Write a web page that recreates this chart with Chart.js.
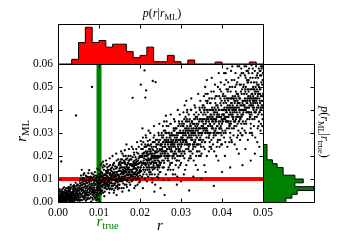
<!DOCTYPE html>
<html><head><meta charset="utf-8">
<script src="https://cdn.jsdelivr.net/npm/chart.js@4.4.0/dist/chart.umd.min.js"></script>
<style>
html,body{margin:0;padding:0;background:#fff;}
#wrap{position:relative;width:341px;height:247px;overflow:hidden;background:#fff;}
canvas{position:absolute;left:0;top:0;width:341px;height:247px;}
</style></head><body>
<div id="wrap">
<canvas id="main" width="341" height="247"></canvas>
<canvas id="top" width="341" height="247"></canvas>
<canvas id="right" width="341" height="247"></canvas>
</div>
<script>
// ---------- data ----------
const X_TICKS = [0, 0.01, 0.02, 0.03, 0.04, 0.05];
const X_TICK_LABELS = ['0.00', '0.01', '0.02', '0.03', '0.04', '0.05'];
const Y_TICKS = [0, 0.01, 0.02, 0.03, 0.04, 0.05, 0.06];
const Y_TICK_LABELS = ['0.00', '0.01', '0.02', '0.03', '0.04', '0.05', '0.06'];
const R_TRUE = 0.01;          // green vertical marker
const R_ML_MARK = 0.01;       // red horizontal marker
const HIST_BIN_WIDTH = 0.05 / 30;
// p(r | r_ML) histogram (bins of r from 0)
const topHistCounts = [0, 0, 14, 65, 111, 65, 71, 51, 60, 60, 38, 19, 26, 51, 7, 7, 26, 7, 0, 12, 0, 0, 0, 6, 0, 0, 0, 0, 6, 0];
// p(r_ML | r_true) histogram (bins of r_ML from 0)
const rightHistCounts = [68, 86, 102, 152, 95, 120, 95, 60, 60, 42, 28, 12, 12, 12, 12];
// scatter points (r, r_ML) in units of 1e-4
const POINT_UNIT = 1e-4;
const scatterPairs = [
3,5, 8,12, 12,3, 15,20, 2,30, 6,18, 10,8, 14,35, 18,14, 20,2, 22,25, 25,40, 27,10, 30,18, 33,5, 35,30, 38,22, 40,45, 42,12, 45,28, 48,6, 47,50, 44,38, 41,19, 39,3, 36,55, 33,27, 31,42, 28,33, 26,8, 24,15, 21,48, 19,36, 17,7, 16,26, 13,44, 11,16, 9,28, 7,40, 5,22, 4,11, 1,15, 2,2, 6,33, 9,52, 12,25, 15,9, 18,41, 21,13, 23,31, 26,22, 29,47, 32,15, 34,38, 37,9, 40,29, 43,52, 46,17, 49,34, 48,62, 45,70, 42,58, 38,36, 35,14, 32,63, 29,26, 27,54, 24,60, 22,7, 20,33, 17,52, 14,17, 12,58, 10,38, 8,4, 5,46, 3,24, 1,38, 4,55, 7,26, 11,2, 13,30, 16,37, 19,22, 23,42, 25,29, 28,4, 30,56, 34,21, 37,44, 41,66, 44,9, 46,42, 49,20, 47,76, 43,84, 39,73, 36,68, 31,75, 26,66, 20,60, 15,64, 9,20, 6,9, 2,46,
52,10, 55,35, 58,62, 60,22, 63,80, 65,45, 68,5, 70,95, 72,30, 75,58, 77,15, 80,110, 82,40, 85,72, 88,25, 90,130, 92,52, 95,88, 97,12, 99,65, 98,105, 96,38, 93,8, 91,76, 89,48, 86,120, 84,18, 81,92, 79,55, 76,138, 74,28, 71,68, 69,112, 66,20, 64,100, 61,52, 59,85, 57,28, 54,70, 51,48, 53,92, 56,115, 59,8, 62,42, 64,125, 67,58, 70,32, 73,85, 76,42, 78,100, 81,2, 83,60, 86,35, 88,95, 91,20, 94,62, 96,145, 99,30, 97,80, 95,112, 92,100, 90,42, 87,82, 85,10, 82,125, 80,68, 77,88, 75,15, 72,108, 70,62, 67,90, 65,28, 62,118, 60,75, 57,48, 55,100, 52,28, 50,72, 54,55, 58,140, 63,15, 66,78, 71,48, 74,125, 78,65, 83,105, 87,55, 92,78, 94,38, 98,50,
101,60, 103,120, 105,35, 107,90, 109,150, 111,72, 113,25, 115,105, 117,180, 119,55, 121,135, 123,88, 125,40, 127,160, 129,110, 131,70, 133,200, 135,125, 137,50, 139,95, 141,145, 143,30, 145,115, 147,75, 149,170, 148,98, 146,55, 144,130, 142,210, 140,82, 138,110, 136,40, 134,160, 132,95, 130,135, 128,60, 126,190, 124,105, 122,70, 120,150, 118,85, 116,120, 114,45, 112,100, 110,175, 108,65, 106,130, 104,80, 102,95, 100,140, 103,50, 106,168, 109,110, 112,140, 115,62, 118,128, 121,90, 124,155, 127,82, 130,115, 133,58, 136,142, 139,120, 142,68, 145,90, 148,135, 150,105, 147,185, 144,92, 141,112, 138,75, 135,95, 132,120, 129,145, 126,118, 123,128, 120,100, 117,68, 114,155, 111,118, 108,88, 105,108, 102,68, 104,160, 107,45, 113,82, 119,112, 125,70, 131,100, 137,170, 143,150, 149,60,
151,90, 153,160, 155,60, 157,210, 159,120, 161,180, 163,75, 165,140, 167,250, 169,105, 171,170, 173,50, 175,130, 177,200, 179,95, 181,155, 183,230, 185,120, 187,180, 189,70, 191,145, 193,260, 195,110, 197,190, 199,135, 198,85, 196,165, 194,125, 192,215, 190,100, 188,145, 186,60, 184,175, 182,130, 180,240, 178,115, 176,160, 174,85, 172,200, 170,140, 168,65, 166,185, 164,110, 162,150, 160,95, 158,170, 156,130, 154,220, 152,120, 150,145, 153,100, 156,185, 159,80, 162,125, 165,200, 168,150, 171,115, 174,180, 177,140, 180,90, 183,165, 186,205, 189,130, 192,175, 195,150, 198,195, 200,115, 197,240, 194,75, 191,185, 188,110, 185,155, 182,95, 179,185, 176,120, 173,150, 170,95, 167,130, 164,170, 161,135, 158,100, 155,150, 152,175, 157,45, 163,225, 169,190, 175,105, 181,120, 187,160, 193,140, 199,170,
201,150, 203,230, 205,110, 207,280, 209,180, 211,130, 213,250, 215,200, 217,90, 219,170, 221,310, 223,140, 225,220, 227,185, 229,120, 231,260, 233,160, 235,210, 237,75, 239,240, 241,190, 243,140, 245,300, 247,175, 249,225, 248,130, 246,260, 244,195, 242,110, 240,170, 238,215, 236,150, 234,330, 232,190, 230,100, 228,240, 226,165, 224,270, 222,130, 220,205, 218,180, 216,120, 214,290, 212,165, 210,215, 208,140, 206,195, 204,250, 202,175, 200,90, 203,135, 206,320, 209,210, 212,100, 215,165, 218,245, 221,185, 224,150, 227,210, 230,175, 233,280, 236,120, 239,200, 242,230, 245,155, 248,195, 250,245, 247,340, 244,160, 241,215, 238,180, 235,145, 232,225, 229,195, 226,130, 223,245, 220,150, 217,215, 214,185, 211,240, 208,170, 205,200, 202,265, 207,60, 213,140, 219,265, 225,185, 231,140, 237,195, 243,270, 249,160,
251,200, 253,300, 255,150, 257,260, 259,350, 261,210, 263,120, 265,280, 267,180, 269,330, 271,240, 273,160, 275,380, 277,220, 279,290, 281,140, 283,250, 285,190, 287,320, 289,230, 291,110, 293,270, 295,350, 297,200, 299,260, 298,160, 296,300, 294,230, 292,400, 290,180, 288,270, 286,120, 284,310, 282,210, 280,250, 278,170, 276,290, 274,340, 272,200, 270,260, 268,140, 266,230, 264,300, 262,190, 260,270, 258,220, 256,330, 254,180, 252,250, 250,130, 253,220, 256,280, 259,170, 262,240, 265,350, 268,210, 271,300, 274,140, 277,260, 280,200, 283,360, 286,240, 289,180, 292,290, 295,220, 298,310, 300,240, 297,380, 294,150, 291,260, 288,210, 285,280, 282,320, 279,190, 276,240, 273,290, 270,180, 267,260, 264,220, 261,310, 258,150, 255,240, 252,290, 257,95, 263,375, 269,200, 275,250, 281,270, 287,160, 293,330, 299,200,
301,250, 303,350, 305,200, 307,300, 309,420, 311,260, 313,160, 315,330, 317,230, 319,380, 321,290, 323,200, 325,450, 327,270, 329,340, 331,180, 333,300, 335,240, 337,390, 339,280, 341,140, 343,320, 345,410, 347,250, 349,300, 348,200, 346,360, 344,270, 342,470, 340,220, 338,320, 336,160, 334,360, 332,260, 330,300, 328,210, 326,350, 324,400, 322,250, 320,310, 318,180, 316,280, 314,360, 312,230, 310,320, 308,270, 306,390, 304,220, 302,300, 300,170, 303,270, 306,330, 309,210, 312,290, 315,400, 318,250, 321,360, 324,190, 327,310, 330,240, 333,420, 336,290, 339,220, 342,340, 345,270, 348,360, 350,290, 347,440, 344,200, 341,310, 338,250, 335,330, 332,380, 329,230, 326,290, 323,340, 320,220, 317,300, 314,260, 311,370, 308,190, 305,290, 302,340, 307,120, 313,440, 319,240, 325,300, 331,320, 337,200, 343,380, 349,240,
351,300, 353,420, 355,240, 357,360, 359,500, 361,310, 363,200, 365,390, 367,280, 369,450, 371,340, 373,240, 375,540, 377,320, 379,400, 381,220, 383,360, 385,290, 387,460, 389,330, 391,180, 393,380, 395,490, 397,300, 399,360, 398,250, 396,430, 394,320, 392,560, 390,270, 388,380, 386,200, 384,430, 382,310, 380,360, 378,250, 376,410, 374,480, 372,300, 370,370, 368,220, 366,330, 364,430, 362,280, 360,380, 358,320, 356,460, 354,270, 352,360, 350,210, 353,320, 356,400, 359,260, 362,350, 365,470, 368,300, 371,430, 374,230, 377,370, 380,290, 383,510, 386,350, 389,260, 392,400, 395,320, 398,420, 400,340, 397,520, 394,240, 391,370, 388,300, 385,400, 382,450, 379,280, 376,350, 373,400, 370,260, 367,360, 364,310, 361,440, 358,230, 355,340, 352,410, 357,160, 363,530, 369,290, 375,360, 381,380, 387,240, 393,460, 399,290,
401,350, 403,470, 405,280, 407,400, 409,560, 411,350, 413,240, 415,440, 417,320, 419,500, 421,380, 423,270, 425,590, 427,360, 429,450, 431,250, 433,410, 435,330, 437,520, 439,370, 441,210, 443,430, 445,550, 447,340, 449,400, 448,290, 446,480, 444,360, 442,590, 440,310, 438,430, 436,230, 434,480, 432,350, 430,400, 428,290, 426,460, 424,530, 422,340, 420,410, 418,260, 416,370, 414,480, 412,320, 410,430, 408,360, 406,510, 404,300, 402,400, 400,250, 403,360, 406,450, 409,300, 412,390, 415,520, 418,340, 421,480, 424,260, 427,410, 430,330, 433,560, 436,390, 439,290, 442,450, 445,360, 448,470, 450,380, 447,580, 444,270, 441,410, 438,340, 435,450, 432,500, 429,320, 426,390, 423,450, 420,300, 417,400, 414,350, 411,490, 408,260, 405,380, 402,460, 407,200, 413,580, 419,330, 425,400, 431,430, 437,280, 443,510, 449,320,
451,380, 453,510, 455,310, 457,440, 459,590, 461,390, 463,270, 465,480, 467,360, 469,540, 471,420, 473,300, 475,580, 477,400, 479,490, 481,280, 483,450, 485,370, 487,560, 489,410, 491,240, 493,470, 495,590, 497,380, 499,440, 498,330, 496,520, 494,400, 492,570, 490,350, 488,470, 486,260, 484,520, 482,390, 480,440, 478,330, 476,500, 474,560, 472,380, 470,450, 468,300, 466,410, 464,520, 462,360, 460,470, 458,400, 456,550, 454,340, 452,440, 450,290, 453,400, 456,490, 459,340, 462,430, 465,560, 468,380, 471,520, 474,290, 477,450, 480,370, 483,590, 486,430, 489,330, 492,490, 495,400, 498,510, 500,420, 497,580, 494,310, 491,450, 488,380, 485,490, 482,540, 479,360, 476,430, 473,490, 470,340, 467,440, 464,390, 461,530, 458,300, 455,420, 452,500, 457,230, 463,570, 469,370, 475,440, 481,470, 487,320, 493,550, 499,360,
8,176, 44,376, 83,500, 202,510, 211,572, 231,526, 238,521, 215,485, 182,453, 213,454,
320,50, 380,70, 280,120, 300,90, 450,160, 480,210, 330,110, 400,130, 260,30, 250,60, 270,95, 235,45, 245,105, 290,75, 350,100, 420,150, 470,180, 360,130, 310,140, 230,85,
2,8, 4,16, 7,3, 9,13, 11,22, 13,6, 16,14, 18,28, 21,4, 23,18, 25,10, 27,34, 29,12, 31,24, 33,40, 35,8, 37,18, 39,31, 41,6, 43,24, 45,12, 47,36, 49,8, 48,26, 46,55, 44,19, 42,33, 40,14, 38,48, 36,2, 34,12, 32,30, 30,4, 28,20, 26,45, 24,28, 22,37, 20,15, 18,50, 16,4, 14,25, 12,12, 10,30, 8,20, 6,2, 4,32, 3,15, 1,6, 5,12, 10,45, 15,42, 20,24, 25,50, 30,35, 35,44, 40,58, 45,46, 49,52, 27,62, 38,62,
51,18, 53,40, 56,8, 58,30, 61,62, 63,25, 66,48, 68,88, 71,12, 73,55, 75,30, 78,78, 80,20, 83,45, 85,95, 88,62, 90,15, 93,50, 95,28, 98,85, 99,120, 97,58, 94,105, 92,32, 89,72, 87,110, 84,52, 82,80, 79,35, 77,62, 74,95, 72,18, 69,40, 67,70, 65,12, 62,90, 60,38, 57,75, 55,20, 52,60, 50,35, 54,82, 59,52, 64,65, 69,28, 74,72, 79,102, 84,30, 89,88, 94,20, 99,95, 96,70, 91,115, 86,45, 81,58, 76,108, 71,82, 66,35, 61,105, 56,58, 53,5, 58,98, 63,45, 68,115, 73,40, 78,48, 83,72, 88,38, 93,92, 98,75,
100,80, 102,110, 104,55, 106,95, 108,125, 110,40, 112,85, 114,120, 116,60, 118,100, 120,75, 122,140, 124,90, 126,55, 128,120, 130,85, 132,150, 134,70, 136,105, 138,130, 140,60, 142,100, 144,150, 146,85, 148,115, 150,75, 149,135, 147,100, 145,65, 143,120, 141,90, 139,155, 137,80, 135,110, 133,130, 131,55, 129,95, 127,125, 125,100, 123,60, 121,110, 119,80, 117,135, 115,90, 113,60, 111,100, 109,75, 107,115, 105,70, 103,85, 101,105, 104,130, 108,50, 112,115, 116,78, 120,125, 124,75, 128,95, 132,80, 136,125, 140,110, 144,70, 148,160, 146,120, 142,130, 138,95, 134,115, 130,100, 126,80, 122,100, 118,115, 114,72, 110,95, 106,110, 102,40, 111,160, 119,165, 127,140, 135,165, 143,180,
150,110, 152,150, 154,90, 156,170, 158,125, 160,60, 162,175, 164,130, 166,95, 168,160, 170,120, 172,180, 174,140, 176,75, 178,165, 180,130, 182,195, 184,100, 186,150, 188,120, 190,170, 192,135, 194,100, 196,150, 198,170, 200,140, 199,100, 197,125, 195,180, 193,115, 191,160, 189,195, 187,125, 185,170, 183,110, 181,140, 179,160, 177,110, 175,165, 173,120, 171,145, 169,90, 167,155, 165,115, 163,165, 161,110, 159,150, 157,90, 155,125, 153,135, 151,165, 154,185, 158,140, 162,100, 166,140, 170,165, 174,105, 178,140, 182,160, 186,125, 190,145, 194,165, 198,130, 196,210, 192,120, 188,165, 184,145, 180,115, 176,185, 172,130, 168,120, 164,145, 160,130, 156,110, 152,95, 173,230, 185,215, 191,230, 160,200, 167,75,
200,200, 202,150, 204,230, 206,170, 208,120, 210,190, 212,240, 214,160, 216,210, 218,140, 220,250, 222,180, 224,120, 226,220, 228,170, 230,230, 232,150, 234,200, 236,260, 238,170, 240,220, 242,150, 244,250, 246,200, 248,170, 250,210, 249,270, 247,150, 245,220, 243,190, 241,160, 239,270, 237,220, 235,180, 233,240, 231,200, 229,150, 227,250, 225,170, 223,210, 221,160, 219,220, 217,180, 215,240, 213,170, 211,200, 209,150, 207,230, 205,170, 203,200, 201,130, 204,160, 208,260, 212,200, 216,150, 220,190, 224,230, 228,200, 232,260, 236,190, 240,250, 244,180, 248,230, 246,290, 242,200, 238,240, 234,170, 230,210, 226,190, 222,230, 218,200, 214,220, 210,165, 206,210, 202,195, 215,280, 225,300, 235,290, 245,120, 220,110,
250,250, 252,200, 254,280, 256,220, 258,180, 260,240, 262,300, 264,200, 266,260, 268,190, 270,300, 272,230, 274,170, 276,270, 278,220, 280,290, 282,200, 284,250, 286,320, 288,230, 290,280, 292,200, 294,300, 296,250, 298,220, 300,280, 299,330, 297,230, 295,270, 293,240, 291,200, 289,320, 287,270, 285,220, 283,290, 281,240, 279,200, 277,300, 275,220, 273,260, 271,200, 269,270, 267,230, 265,300, 263,220, 261,250, 259,200, 257,290, 255,210, 253,250, 251,170, 254,230, 258,310, 262,260, 266,200, 270,240, 274,280, 278,250, 282,310, 286,260, 290,300, 294,220, 298,270, 296,340, 292,250, 288,290, 284,210, 280,260, 276,230, 272,280, 268,250, 264,270, 260,220, 256,260, 252,230, 265,330, 275,340, 285,350, 295,180, 270,150,
300,300, 302,250, 304,330, 306,270, 308,220, 310,290, 312,350, 314,250, 316,310, 318,230, 320,350, 322,280, 324,220, 326,320, 328,270, 330,340, 332,250, 334,300, 336,370, 338,280, 340,330, 342,250, 344,350, 346,300, 348,270, 350,330, 349,390, 347,280, 345,320, 343,290, 341,250, 339,370, 337,320, 335,270, 333,340, 331,290, 329,250, 327,350, 325,270, 323,310, 321,250, 319,320, 317,280, 315,350, 313,270, 311,300, 309,250, 307,340, 305,260, 303,300, 301,210, 304,280, 308,360, 312,310, 316,250, 320,290, 324,330, 328,300, 332,360, 336,310, 340,360, 344,270, 348,320, 346,400, 342,300, 338,340, 334,260, 330,310, 326,280, 322,330, 318,300, 314,320, 310,270, 306,310, 302,280, 315,390, 325,400, 335,410, 345,220, 320,190,
350,350, 352,300, 354,380, 356,320, 358,260, 360,340, 362,400, 364,300, 366,360, 368,280, 370,400, 372,330, 374,270, 376,370, 378,320, 380,390, 382,300, 384,350, 386,420, 388,330, 390,380, 392,300, 394,400, 396,350, 398,320, 400,380, 399,440, 397,330, 395,370, 393,340, 391,300, 389,420, 387,370, 385,320, 383,390, 381,340, 379,300, 377,400, 375,320, 373,360, 371,300, 369,370, 367,330, 365,400, 363,320, 361,350, 359,300, 357,390, 355,310, 353,350, 351,260, 354,330, 358,410, 362,360, 366,300, 370,340, 374,380, 378,350, 382,410, 386,360, 390,410, 394,320, 398,370, 396,450, 392,350, 388,390, 384,310, 380,360, 376,330, 372,380, 368,350, 364,370, 360,320, 356,360, 352,330, 365,440, 375,450, 385,460, 395,270, 370,240, 380,480, 390,500, 360,470, 355,420, 398,480, 372,430,
400,400, 402,350, 404,430, 406,370, 408,310, 410,390, 412,450, 414,350, 416,410, 418,330, 420,450, 422,380, 424,320, 426,420, 428,370, 430,440, 432,350, 434,400, 436,470, 438,380, 440,430, 442,350, 444,450, 446,400, 448,370, 450,430, 449,490, 447,380, 445,420, 443,390, 441,350, 439,470, 437,420, 435,370, 433,440, 431,390, 429,350, 427,450, 425,370, 423,410, 421,350, 419,420, 417,380, 415,450, 413,370, 411,400, 409,350, 407,440, 405,360, 403,400, 401,310, 404,380, 408,460, 412,410, 416,350, 420,390, 424,430, 428,400, 432,460, 436,410, 440,460, 444,370, 448,420, 446,510, 442,400, 438,440, 434,360, 430,410, 426,380, 422,430, 418,400, 414,420, 410,370, 406,410, 402,380, 415,490, 425,500, 435,510, 445,300, 420,280, 430,530, 440,540, 410,530, 405,560, 448,560, 422,570, 438,590,
450,440, 452,390, 454,470, 456,410, 458,350, 460,430, 462,490, 464,390, 466,450, 468,370, 470,490, 472,420, 474,360, 476,460, 478,410, 480,480, 482,390, 484,440, 486,510, 488,420, 490,470, 492,390, 494,490, 496,440, 498,410, 500,470, 499,530, 497,420, 495,460, 493,430, 491,390, 489,510, 487,460, 485,410, 483,480, 481,430, 479,390, 477,490, 475,410, 473,450, 471,390, 469,460, 467,420, 465,490, 463,410, 461,440, 459,390, 457,480, 455,400, 453,440, 451,350, 454,420, 458,500, 462,450, 466,390, 470,430, 474,470, 478,440, 482,500, 486,450, 490,500, 494,410, 498,460, 496,550, 492,440, 488,480, 484,400, 480,450, 476,420, 472,470, 468,440, 464,460, 460,410, 456,450, 452,420, 465,530, 475,540, 485,550, 495,340, 470,320, 480,570, 490,580, 460,570, 455,590, 498,590, 472,595, 488,540, 478,520, 462,520, 500,560, 484,600, 466,580, 494,570, 452,560, 458,540
];

// ---------- helpers ----------
const SERIF = "'Liberation Serif','DejaVu Serif','Times New Roman',serif";
const scatterData = [];
for (let i = 0; i < scatterPairs.length; i += 2) {
  scatterData.push({ x: scatterPairs[i] * POINT_UNIT, y: scatterPairs[i + 1] * POINT_UNIT });
}
const topHistData = topHistCounts.map((c, i) => ({ x: i * HIST_BIN_WIDTH, y: c }));
topHistData.push({ x: topHistCounts.length * HIST_BIN_WIDTH, y: 0 });
const rightHistData = rightHistCounts.map((c, i) => ({ x: c, y: i * HIST_BIN_WIDTH }));
rightHistData.push({ x: 0, y: rightHistCounts.length * HIST_BIN_WIDTH });

const TICK_LEN = 4;
function framePlugin(cfg) {
  return {
    id: 'frame_' + cfg.name,
    afterDatasetsDraw(chart) {
      const { ctx, chartArea: a } = chart;
      const xs = chart.scales.x, ys = chart.scales.y;
      ctx.save();
      ctx.strokeStyle = '#000';
      ctx.lineWidth = 1;
      ctx.beginPath();
      const L = Math.round(a.left) + 0.5, R = Math.round(a.right) + 0.5;
      const T = Math.round(a.top) + 0.5, B = Math.round(a.bottom) + 0.5;
      ctx.rect(L, T, R - L, B - T);
      (cfg.xTop || []).forEach(v => { const p = Math.round(xs.getPixelForValue(v)) + 0.5; ctx.moveTo(p, T); ctx.lineTo(p, T + TICK_LEN); });
      (cfg.xBottom || []).forEach(v => { const p = Math.round(xs.getPixelForValue(v)) + 0.5; ctx.moveTo(p, B); ctx.lineTo(p, B - TICK_LEN); });
      (cfg.yLeft || []).forEach(v => { const p = Math.round(ys.getPixelForValue(v)) + 0.5; ctx.moveTo(L, p); ctx.lineTo(L + TICK_LEN, p); });
      (cfg.yRight || []).forEach(v => { const p = Math.round(ys.getPixelForValue(v)) + 0.5; ctx.moveTo(R, p); ctx.lineTo(R - TICK_LEN, p); });
      ctx.stroke();
      ctx.restore();
    }
  };
}

function fontOf(p, base) {
  const size = p.sub ? base * 0.7 : base;
  return (p.i ? 'italic ' : '') + size + 'px ' + SERIF;
}
function drawRich(ctx, parts, x, y, rot, color, base) {
  ctx.save();
  ctx.translate(x, y);
  ctx.rotate(rot);
  ctx.fillStyle = color;
  ctx.textBaseline = 'alphabetic';
  ctx.textAlign = 'left';
  let w = 0;
  const widths = parts.map(p => { ctx.font = fontOf(p, base); const m = ctx.measureText(p.t).width; w += m; return m; });
  let cx = -w / 2;
  parts.forEach((p, k) => {
    ctx.font = fontOf(p, base);
    ctx.fillText(p.t, cx, p.sub ? base * 0.22 : 0);
    cx += widths[k];
  });
  ctx.restore();
}

const labelsPlugin = {
  id: 'labels',
  afterDraw(chart) {
    const ctx = chart.ctx;
    drawRich(ctx, [{ t: 'p', i: 1 }, { t: '(' }, { t: 'r', i: 1 }, { t: '|' }, { t: 'r', i: 1 }, { t: 'ML', sub: 1 }, { t: ')' }], 162, 17, 0, '#000', 12);
    drawRich(ctx, [{ t: 'p', i: 1 }, { t: '(' }, { t: 'r', i: 1 }, { t: 'ML', sub: 1 }, { t: '|' }, { t: 'r', i: 1 }, { t: 'true', sub: 1 }, { t: ')' }], 321, 132, Math.PI / 2, '#000', 12);
    drawRich(ctx, [{ t: 'r', i: 1 }, { t: 'ML', sub: 1 }], 25.5, 131, -Math.PI / 2, '#000', 15);
    drawRich(ctx, [{ t: 'r', i: 1 }], 160, 229.5, 0, '#000', 15);
    drawRich(ctx, [{ t: 'r', i: 1 }, { t: 'true', sub: 1 }], 107.5, 225.5, 0, '#008000', 15);
  }
};

const common = {
  responsive: false, animation: false, devicePixelRatio: 1, events: [],
  plugins: { legend: { display: false }, tooltip: { enabled: false } }
};

// ---------- main scatter ----------
new Chart(document.getElementById('main'), {
  type: 'scatter',
  data: {
    datasets: [
      { data: scatterData, backgroundColor: '#000', borderWidth: 0, pointRadius: 1.15, pointHoverRadius: 1.15, order: 0, clip: 0 },
      { data: [{ x: R_TRUE, y: 0 }, { x: R_TRUE, y: 0.06 }], showLine: true, borderColor: '#008000', borderWidth: 5, pointRadius: 0, order: 1, clip: 0 },
      { data: [{ x: 0, y: R_ML_MARK }, { x: 0.05, y: R_ML_MARK }], showLine: true, borderColor: '#ff0000', borderWidth: 4, pointRadius: 0, order: 1, clip: 0 }
    ]
  },
  options: Object.assign({}, common, {
    layout: { padding: { left: 0, top: 64, right: 78, bottom: 0 } },
    scales: {
      x: {
        type: 'linear', min: 0, max: 0.05,
        grid: { display: false, drawTicks: false }, border: { display: false },
        afterBuildTicks: s => { s.ticks = X_TICKS.map(v => ({ value: v })); },
        afterFit: s => { s.height = 45; },
        ticks: { font: { family: SERIF, size: 11.5 }, color: '#000', padding: 4, maxRotation: 0, autoSkip: false, callback: (v, i) => X_TICK_LABELS[i] }
      },
      y: {
        type: 'linear', min: 0, max: 0.06,
        grid: { display: false, drawTicks: false }, border: { display: false },
        afterBuildTicks: s => { s.ticks = Y_TICKS.map(v => ({ value: v })); },
        afterFit: s => { s.width = 58; },
        ticks: { font: { family: SERIF, size: 11.5 }, color: '#000', padding: 5, autoSkip: false, callback: (v, i) => Y_TICK_LABELS[i] }
      }
    }
  }),
  plugins: [framePlugin({ name: 'main', xTop: X_TICKS, xBottom: X_TICKS, yLeft: Y_TICKS, yRight: Y_TICKS }), labelsPlugin]
});

// ---------- top histogram ----------
new Chart(document.getElementById('top'), {
  type: 'line',
  data: { datasets: [{ data: topHistData, stepped: true, fill: 'origin', backgroundColor: '#ff0000', borderColor: '#000', borderWidth: 1, pointRadius: 0 }] },
  options: Object.assign({}, common, {
    layout: { padding: { left: 58, top: 24, right: 78, bottom: 183 } },
    scales: {
      x: { type: 'linear', min: 0, max: 0.05, display: false },
      y: { type: 'linear', min: 0, max: 121, display: false }
    }
  }),
  plugins: [framePlugin({ name: 'top', xTop: X_TICKS })]
});

// ---------- right histogram ----------
new Chart(document.getElementById('right'), {
  type: 'line',
  data: { datasets: [{ data: rightHistData, stepped: 'after', fill: 'origin', backgroundColor: '#008000', borderColor: '#000', borderWidth: 1, pointRadius: 0 }] },
  options: Object.assign({}, common, {
    indexAxis: 'y',
    layout: { padding: { left: 263, top: 64, right: 27, bottom: 45 } },
    scales: {
      x: { type: 'linear', min: 0, max: 152, display: false },
      y: { type: 'linear', min: 0, max: 0.06, display: false }
    }
  }),
  plugins: [framePlugin({ name: 'right', yRight: Y_TICKS })]
});
</script>
</body></html>
